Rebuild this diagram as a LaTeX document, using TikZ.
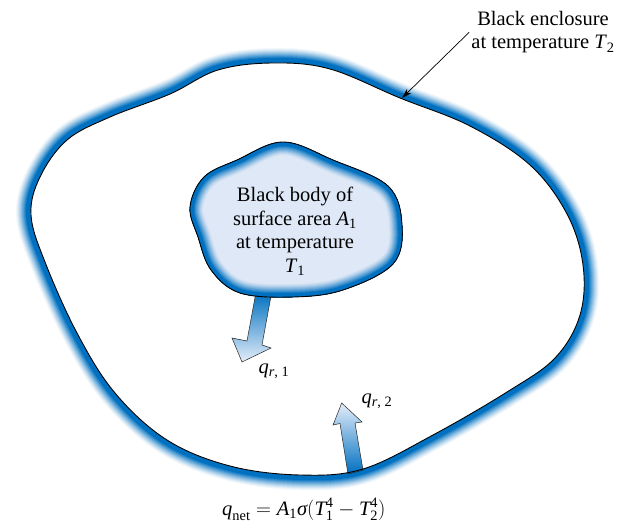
\documentclass[tikz,border=0pt]{standalone}
\usepackage{amsmath}
\usepackage{fontspec}
\setmainfont{Liberation Serif}
\usetikzlibrary{arrows.meta}
\definecolor{encblue}{RGB}{0,112,192}
\definecolor{bodylight}{RGB}{222,232,246}
\definecolor{arrlight}{RGB}{228,237,249}
\newcommand\vv[1]{\textit{#1}}
\newcommand\tx[1]{\text{#1}}
\def\encpath{plot[smooth cycle,tension=0.6] coordinates{(110,117) (67,140) (40,177) (31,215) (45,262) (77,333) (115,393) (167,440) (230,466) (300,475) (363,469) (433,435) (507,392) (555,358) (580,315) (583,265) (567,214) (530,165) (470,126) (400,98) (330,69) (273,63) (218,70) (170,94)}}
\def\bodypath{plot[smooth cycle,tension=0.6] coordinates{(190,207) (204,177) (237,160) (283,142) (333,160) (388,186) (402,225) (393,264) (343,290) (293,297) (240,293) (211,270) (198,237)}}
\begin{document}
\begin{tikzpicture}[x=1pt,y=-1pt,
  lbl/.style={font=\fontsize{20.5}{23.5}\selectfont, inner sep=0pt},
  blockarrow/.style={draw=black!85, line width=0.5pt}]
\useasboundingbox (0,0) rectangle (620,524);
% enclosure band
\foreach \r in {16,15,...,1}{
  \pgfmathtruncatemacro\p{\r<6 ? 100 : 100*((16-\r)/11)^1.3}
  \draw[line width={2*\r*1pt}, draw=encblue!\p!white] \encpath;
}
\fill[white] \encpath;
% arrow q_r,2
\shade[blockarrow, top color=arrlight, bottom color=encblue]
  (341.7,403) -- (362,422) -- (355,423) -- (363,470) -- (348,474) -- (340,423.5) -- (333,425) -- cycle;
\draw[line width=0.9pt] \encpath;
% arrow q_r,1
\shade[blockarrow, top color=encblue, bottom color=arrlight]
  (256,292) -- (271,296) -- (262,345) -- (271,348) -- (242,362) -- (232,338) -- (247,341) -- cycle;
% black body
\begin{scope}
  \clip \bodypath;
  \fill[bodylight] \bodypath;
  \foreach \r in {14,13,...,1}{
    \pgfmathtruncatemacro\p{\r<5 ? 100 : 100*((14-\r)/10)^1.3}
    \draw[line width={2*\r*1pt}, draw=encblue!\p!bodylight] \bodypath;
  }
\end{scope}
\draw[line width=0.9pt] \bodypath;
% texts
\node[lbl, align=center, anchor=north] (bodytxt) at (295,187)
  {Black body of\\surface area \vv{A}\textsubscript{1}\\at temperature\\\vv{T}\textsubscript{1}};
\node[lbl, align=center, anchor=north] (enctxt) at (543,11)
  {Black enclosure\\at temperature \vv{T}\textsubscript{2}};
\coordinate (encpt) at (402,98);
\draw[-{Stealth[length=10pt,width=6pt]}, line width=0.7pt] ([xshift=-2pt]enctxt.west) -- (encpt);
\node[lbl] (q1) at (274,371) {\vv{q}\textsubscript{\vv{r}, 1}};
\node[lbl] (q2) at (377,401) {\vv{q}\textsubscript{\vv{r}, 2}};
\node[lbl, anchor=base west] (qnet) at (222,515)
  {$\vv{q}_{\tx{net}} = \vv{A}_{\tx{1}}\vv{σ}(\vv{T}_{\tx{1}}^{\tx{4}} - \vv{T}_{\tx{2}}^{\tx{4}})$};
\end{tikzpicture}
\end{document}
